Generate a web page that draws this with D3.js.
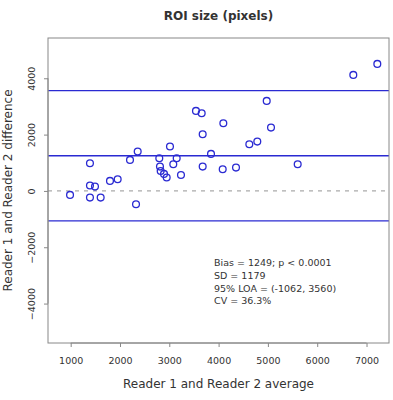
<!DOCTYPE html>
<html>
<head>
<meta charset="utf-8">
<script src="https://cdn.jsdelivr.net/npm/d3@7"></script>
<style>
  body { margin: 0; background: #fff; }
  text { font-family: "DejaVu Sans", sans-serif; fill: #333; }
</style>
</head>
<body>
<div id="chart"></div>
<script>
// Bland-Altman data
const avgValues = [987, 1391, 1391, 1493, 1391, 1608, 1797, 1953, 2203, 2359, 2325,
  2797, 2811, 2825, 2893, 2947, 3014, 3081, 3150, 3237, 3541, 3657, 3677, 3677,
  3846, 4083, 4096, 4353, 4623, 4785, 4976, 5063, 5604, 6732, 7219];
const diffValues = [-142, 983, 190, 153, -237, -237, 355, 415, 1101, 1396, -474,
  1161, 864, 710, 604, 474, 1575, 948, 1161, 568, 2842, 2760, 2014, 864,
  1314, 771, 2405, 828, 1659, 1751, 3197, 2249, 948, 4120, 4511];

const bias = 1249;
const loaLower = -1062;
const loaUpper = 3560;
const xTicks = [1000, 2000, 3000, 4000, 5000, 6000, 7000];
const yTicks = [-4000, -2000, 0, 2000, 4000];
const statsLines = ["Bias = 1249; p < 0.0001", "SD = 1179", "95% LOA = (-1062, 3560)", "CV = 36.3%"];

const width = 393, height = 400;
const margin = {top: 38, right: 4, bottom: 57, left: 48};
const innerW = width - margin.left - margin.right;
const innerH = height - margin.top - margin.bottom;

const svg = d3.select("#chart").append("svg")
    .attr("width", width)
    .attr("height", height);

const x = d3.scaleLinear().domain([540, 7456]).range([margin.left, margin.left + innerW]);
const y = d3.scaleLinear().domain([-5400, 5430]).range([margin.top + innerH, margin.top]);

const blue = "#2a2ad2";

// title
svg.append("text")
    .attr("x", margin.left + innerW / 2)
    .attr("y", 19.5)
    .attr("text-anchor", "middle")
    .style("font-size", "12px")
    .style("font-weight", "bold")
    .text("ROI size (pixels)");

// zero reference line (dashed grey)
svg.append("line")
    .attr("x1", margin.left).attr("x2", margin.left + innerW)
    .attr("y1", y(0)).attr("y2", y(0))
    .attr("stroke", "#aaa")
    .attr("stroke-width", 1.3)
    .attr("stroke-dasharray", "4,5");

// bias and limits of agreement
svg.append("g").selectAll("line")
    .data([loaUpper, bias, loaLower])
    .enter()
    .append("line")
    .attr("x1", margin.left).attr("x2", margin.left + innerW)
    .attr("y1", d => y(d)).attr("y2", d => y(d))
    .attr("stroke", blue)
    .attr("stroke-width", 1.4);

// points
svg.append("g").selectAll("circle")
    .data(avgValues.map((a, i) => [a, diffValues[i]]))
    .enter()
    .append("circle")
    .attr("cx", d => x(d[0]))
    .attr("cy", d => y(d[1]))
    .attr("r", 3.4)
    .attr("fill", "none")
    .attr("stroke", blue)
    .attr("stroke-width", 1.3);

// box around plot
svg.append("rect")
    .attr("x", margin.left).attr("y", margin.top)
    .attr("width", innerW).attr("height", innerH)
    .attr("fill", "none")
    .attr("stroke", "#888")
    .attr("stroke-width", 1);

// x axis
const xAxis = svg.append("g")
    .attr("transform", `translate(0, ${margin.top + innerH})`)
    .call(d3.axisBottom(x).tickValues(xTicks).tickSize(4).tickFormat(d3.format("d")));
xAxis.select(".domain").attr("stroke", "#888").attr("d", `M${x(1000)},0H${x(7000)}`);
xAxis.selectAll(".tick line").attr("stroke", "#888");
xAxis.selectAll("text")
    .attr("y", 14)
    .style("font-size", "9.5px")
    .style("font-family", "DejaVu Sans, sans-serif")
    .attr("fill", "#333");

// y axis with rotated labels
const yAxis = svg.append("g")
    .attr("transform", `translate(${margin.left}, 0)`)
    .call(d3.axisLeft(y).tickValues(yTicks).tickSize(4).tickFormat(d3.format("d")));
yAxis.select(".domain").attr("stroke", "#888").attr("d", `M0,${y(-4000)}V${y(4000)}`);
yAxis.selectAll(".tick line").attr("stroke", "#888");
yAxis.selectAll("text")
    .attr("x", null).attr("dy", null)
    .attr("transform", "translate(-13.5,0) rotate(-90)")
    .attr("text-anchor", "middle")
    .attr("y", 0)
    .style("font-size", "9.5px")
    .style("font-family", "DejaVu Sans, sans-serif")
    .attr("fill", "#333");

// axis titles
svg.append("text")
    .attr("x", margin.left + innerW / 2)
    .attr("y", 388)
    .attr("text-anchor", "middle")
    .style("font-size", "12px")
    .text("Reader 1 and Reader 2 average");

svg.append("text")
    .attr("transform", `translate(12, ${margin.top + innerH / 2}) rotate(-90)`)
    .attr("text-anchor", "middle")
    .style("font-size", "12px")
    .text("Reader 1 and Reader 2 difference");

// stats annotation
svg.append("g").selectAll("text")
    .data(statsLines)
    .enter()
    .append("text")
    .attr("x", 214)
    .attr("y", (d, i) => 266 + i * 12.8)
    .style("font-size", "9.5px")
    .text(d => d);
</script>
</body>
</html>
